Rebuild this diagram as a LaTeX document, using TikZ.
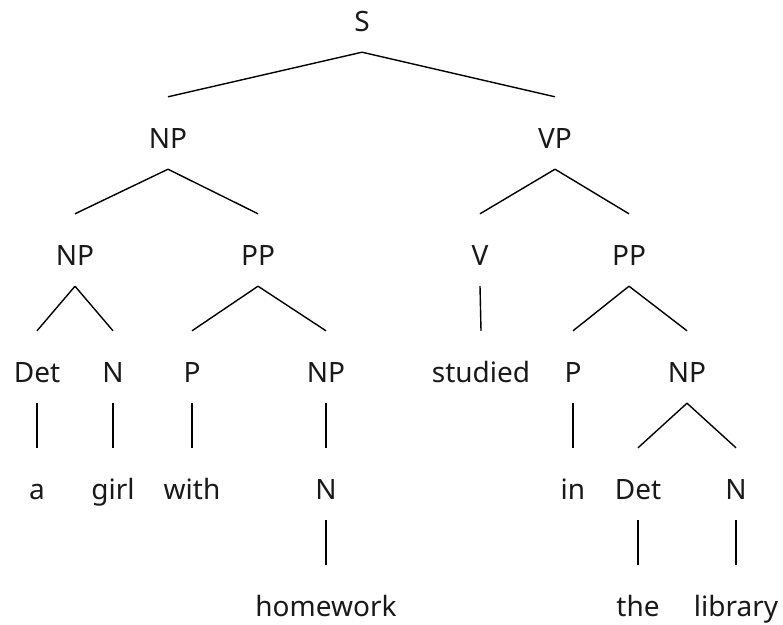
\documentclass[tikz,border=0pt]{standalone}
\usepackage{fontspec}
\setmainfont{Noto Sans}
\begin{document}
\begin{tikzpicture}[x=1pt,y=-1pt,
  lab/.style={anchor=base,inner xsep=0pt,inner ysep=21pt,text height=30pt,text depth=0pt,
    font=\fontsize{28}{30}\selectfont,text=black!90},
  edge/.style={draw=black,line width=1.4pt}]
\useasboundingbox (0,0) rectangle (783,624);
% level baselines
\def\la{31}\def\lb{148}\def\lc{265}\def\ld{382}\def\le{499}\def\lf{616}
\node[lab] (s) at (362,\la) {S};
\node[lab] (np1) at (168,\lb) {NP};
\node[lab] (vp) at (555,\lb) {VP};
\node[lab] (np2) at (75,\lc) {NP};
\node[lab] (pp1) at (258,\lc) {PP};
\node[lab] (v) at (480,\lc) {V};
\node[lab] (pp2) at (629,\lc) {PP};
\node[lab] (det1) at (37,\ld) {Det};
\node[lab] (n1) at (113,\ld) {N};
\node[lab] (p1) at (192,\ld) {P};
\node[lab] (np3) at (326,\ld) {NP};
\node[lab] (studied) at (481,\ld) {studied};
\node[lab] (p2) at (573,\ld) {P};
\node[lab] (np4) at (687,\ld) {NP};
\node[lab] (a) at (37,\le) {a};
\node[lab] (girl) at (113,\le) {girl};
\node[lab] (with) at (192,\le) {with};
\node[lab] (n2) at (326,\le) {N};
\node[lab] (in) at (573,\le) {in};
\node[lab] (det2) at (638,\le) {Det};
\node[lab] (n3) at (736,\le) {N};
\node[lab] (homework) at (326,\lf) {homework};
\node[lab] (the) at (638,\lf) {the};
\node[lab] (library) at (736,\lf) {library};
\foreach \p/\c in {s/np1,s/vp,np1/np2,np1/pp1,vp/v,vp/pp2,np2/det1,np2/n1,pp1/p1,pp1/np3,
  v/studied,pp2/p2,pp2/np4,det1/a,n1/girl,p1/with,np3/n2,p2/in,np4/det2,np4/n3,
  n2/homework,det2/the,n3/library}
  \draw[edge] (\p.south) -- (\c.north);
\end{tikzpicture}
\end{document}
